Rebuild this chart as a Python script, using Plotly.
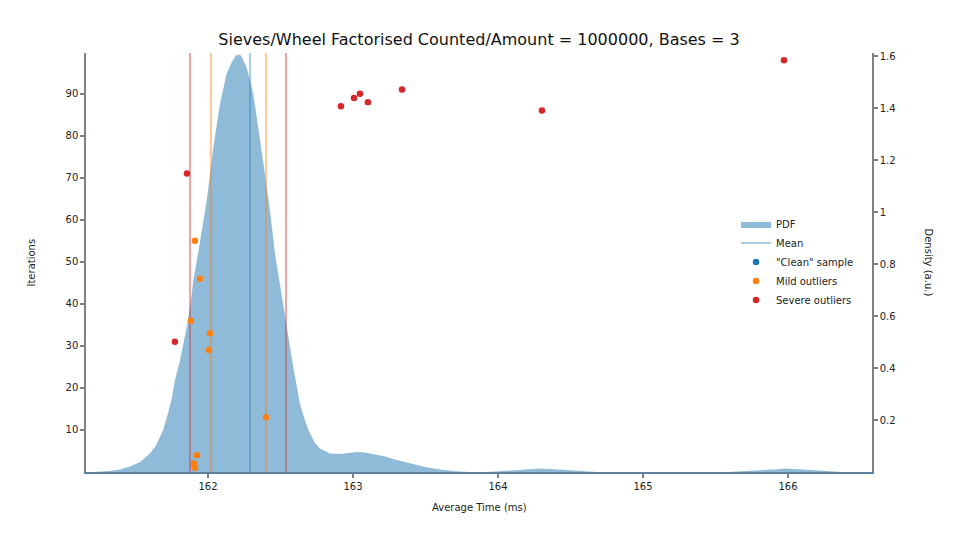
import plotly.graph_objects as go

# ---- data ----
pdf_x = [161.200, 161.255, 161.324, 161.393, 161.462, 161.531, 161.600, 161.641, 161.690,
         161.724, 161.752, 161.772, 161.807, 161.853, 161.876, 161.899, 161.933, 161.991,
         162.037, 162.083, 162.129, 162.163, 162.186, 162.207, 162.228, 162.267, 162.312,
         162.347, 162.381, 162.428, 162.462, 162.497, 162.531, 162.566, 162.589, 162.634,
         162.669, 162.703, 162.738, 162.772, 162.807, 162.841, 162.910, 162.979, 163.028,
         163.083, 163.152, 163.221, 163.290, 163.393, 163.497, 163.600, 163.703, 163.807,
         163.917, 164.014, 164.117, 164.221, 164.290, 164.393, 164.497, 164.600, 164.683,
         165.586, 165.703, 165.807, 165.910, 165.979, 166.083, 166.186, 166.290, 166.372,
         166.579]
pdf_y = [0.000, 0.002, 0.004, 0.010, 0.021, 0.038, 0.071, 0.102, 0.160,
         0.225, 0.287, 0.352, 0.429, 0.556, 0.633, 0.737, 0.844, 1.044,
         1.248, 1.417, 1.533, 1.575, 1.598, 1.606, 1.602, 1.556, 1.456,
         1.325, 1.198, 1.006, 0.840, 0.717, 0.594, 0.487, 0.402, 0.263,
         0.198, 0.148, 0.113, 0.090, 0.079, 0.071, 0.069, 0.073, 0.077,
         0.075, 0.067, 0.060, 0.048, 0.033, 0.019, 0.010, 0.003, 0.000,
         0.000, 0.003, 0.007, 0.010, 0.013, 0.011, 0.007, 0.003, 0.000,
         0.000, 0.003, 0.007, 0.010, 0.013, 0.011, 0.007, 0.003, 0.000,
         0.000]

mean_time = 162.29
mild_bounds = [162.021, 162.400]
severe_bounds = [161.876, 162.538]

clean_x = []
clean_y = []
mild_x = [161.910, 161.945, 161.883, 162.014, 162.007, 162.400, 161.924, 161.903, 161.910]
mild_y = [55, 46, 36, 33, 29, 13, 4, 2, 1]
severe_x = [161.855, 161.772, 162.917, 163.007, 163.048, 163.103, 163.338, 164.303, 165.972]
severe_y = [71, 31, 87, 89, 90, 88, 91, 86, 98]

x_ticks = [162, 163, 164, 165, 166]
iter_ticks = [10, 20, 30, 40, 50, 60, 70, 80, 90]
dens_ticks = [0.2, 0.4, 0.6, 0.8, 1.0, 1.2, 1.4, 1.6]
dens_labels = ["0.2", "0.4", "0.6", "0.8", "1", "1.2", "1.4", "1.6"]

title = "Sieves/Wheel Factorised Counted/Amount = 1000000, Bases = 3"

BLUE = "#1f77b4"
ORANGE = "#ff7f0e"
RED = "#d62728"
FONT = "DejaVu Sans"
GREY = "#808080"

fig = go.Figure()

fig.add_trace(go.Scatter(
    x=pdf_x, y=pdf_y, mode="lines", fill="tozeroy",
    fillcolor="rgba(31,119,180,0.5)", line=dict(width=0, color="rgba(31,119,180,0.5)"),
    name="PDF", yaxis="y", hoverinfo="skip"))

fig.add_trace(go.Scatter(
    x=[mean_time, mean_time], y=[0, 1.612], mode="lines",
    line=dict(color="rgba(31,119,180,0.5)", width=1.5), name="Mean", yaxis="y"))

for b in mild_bounds:
    fig.add_trace(go.Scatter(x=[b, b], y=[0, 1.612], mode="lines",
                             line=dict(color="rgba(255,127,14,0.55)", width=1.5),
                             showlegend=False, yaxis="y"))
for b in severe_bounds:
    fig.add_trace(go.Scatter(x=[b, b], y=[0, 1.612], mode="lines",
                             line=dict(color="rgba(214,39,40,0.55)", width=1.5),
                             showlegend=False, yaxis="y"))

# the "clean" series is empty in this chart; a single null keeps its legend entry
fig.add_trace(go.Scatter(x=clean_x or [None], y=clean_y or [None], mode="markers",
                         name='"Clean" sample',
                         marker=dict(color=BLUE, size=6.5), yaxis="y2"))
fig.add_trace(go.Scatter(x=mild_x, y=mild_y, mode="markers", name="Mild outliers",
                         marker=dict(color=ORANGE, size=6.5), yaxis="y2"))
fig.add_trace(go.Scatter(x=severe_x, y=severe_y, mode="markers", name="Severe outliers",
                         marker=dict(color=RED, size=6.5), yaxis="y2"))

fig.update_layout(
    width=960, height=540,
    margin=dict(l=86, r=88, t=53, b=68),
    paper_bgcolor="white", plot_bgcolor="white",
    font=dict(family=FONT, size=10, color="#222222"),
    title=dict(text=title, x=0.499, xanchor="center", y=1 - 39 / 540, yanchor="middle",
               font=dict(family=FONT, size=16, color="#111111")),
    showlegend=True,
    legend=dict(x=0.827, y=(472 - 262) / 419, xanchor="left", yanchor="middle",
                bgcolor="rgba(0,0,0,0)", font=dict(size=10, family=FONT),
                tracegroupgap=0, itemwidth=30),
    xaxis=dict(range=[161.159, 166.579], tickvals=x_ticks, ticktext=[str(t) for t in x_ticks],
               showgrid=False, zeroline=False, showline=True, linecolor="#5d82a0", linewidth=1.5,
               ticks="outside", ticklen=4, tickcolor=GREY, tickwidth=1.5,
               tickfont=dict(size=10, family=FONT)),
    yaxis=dict(range=[0, 1.612], side="right", tickvals=dens_ticks, ticktext=dens_labels,
               showgrid=False, zeroline=False, showline=True, linecolor=GREY, linewidth=1.5,
               ticks="outside", ticklen=4, tickcolor=GREY, tickwidth=1.5,
               tickfont=dict(size=10, family=FONT)),
    yaxis2=dict(range=[0, 99.7], side="left", overlaying="y", tickvals=iter_ticks,
                showgrid=False, zeroline=False, showline=True, linecolor=GREY, linewidth=1.5,
                ticks="outside", ticklen=4, tickcolor=GREY, tickwidth=1.5,
                tickfont=dict(size=10, family=FONT)),
    annotations=[
        dict(text="Iterations", xref="paper", yref="paper", x=-55 / 786, y=0.5,
             textangle=-90, showarrow=False, font=dict(size=10, family=FONT),
             xanchor="center", yanchor="middle"),
        dict(text="Density (a.u.)", xref="paper", yref="paper", x=1 + 56 / 786, y=0.5,
             textangle=90, showarrow=False, font=dict(size=10, family=FONT),
             xanchor="center", yanchor="middle"),
        dict(text="Average Time (ms)", xref="paper", yref="paper", x=0.5, y=-35 / 419,
             showarrow=False, font=dict(size=10, family=FONT),
             xanchor="center", yanchor="middle"),
    ],
)

fig.write_html("out.html")
